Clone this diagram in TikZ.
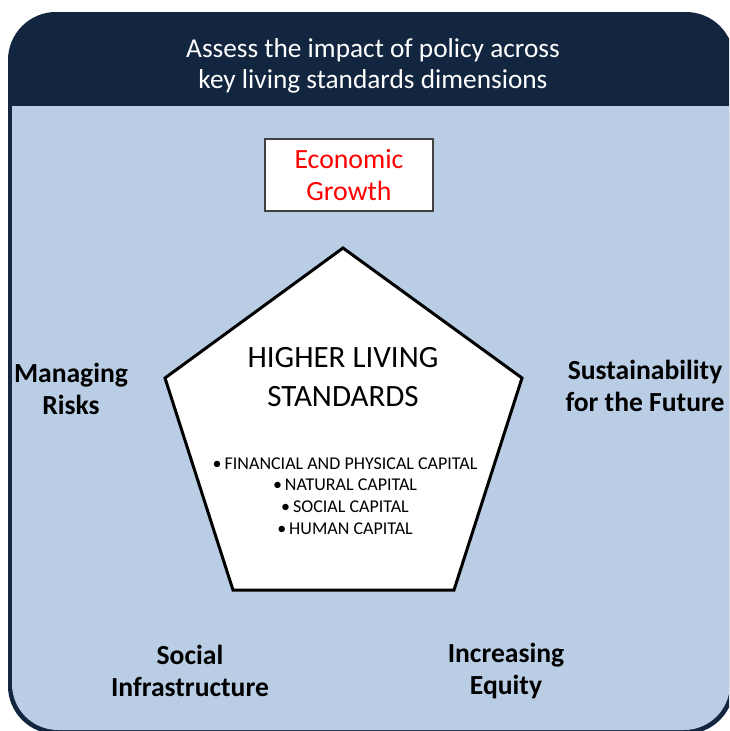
\documentclass[tikz,border=0pt]{standalone}
\usepackage{fontspec}
\setmainfont{Carlito}
\definecolor{navy}{RGB}{18,38,64}
\definecolor{paleblue}{RGB}{185,205,229}
\definecolor{boxgray}{RGB}{64,64,64}
\begin{document}
\begin{tikzpicture}[x=1pt,y=1pt,
  dim/.style={font=\fontsize{27.6}{31.5}\selectfont\bfseries, align=center, text=black, inner sep=0pt},
  title/.style={font=\fontsize{27.3}{31}\selectfont, align=center, text=white, inner sep=0pt},
  egbox/.style={draw=boxgray, fill=white, line width=1.2pt, minimum width=168pt, minimum height=72pt, text=red, align=center, font=\fontsize{27.8}{32}\selectfont, inner sep=0pt},
  core/.style={font=\fontsize{31}{39}\selectfont, align=center, inner sep=0pt},
  caplist/.style={font=\fontsize{18}{21.6}\selectfont, align=center, inner sep=0pt}]
\useasboundingbox (0,0) rectangle (729,-731);
\clip (0,0) rectangle (729,-731);
% outer frame
\fill[navy, rounded corners=48pt] (8,-12) rectangle (734,-734);
\fill[paleblue] (12,-106) -- (12,-684) arc[start angle=180,end angle=270,radius=46] -- (684,-730) arc[start angle=270,end angle=360,radius=46] -- (730,-106) -- cycle;
% header
\node[title] (head) at (373,-66) {Assess the impact of policy across\\key living standards dimensions};
% economic growth box
\node[egbox] (eg) at (349,-175) {Economic\\Growth};
% pentagon
\filldraw[fill=white, draw=black, line width=3pt, line join=miter]
  (343,-248) -- (522,-378) -- (454,-590) -- (233,-590) -- (165,-378) -- cycle;
\node[core] (hls) at (343,-377) {HIGHER LIVING\\STANDARDS};
\node[caplist] (caps) at (345,-496) {\textbullet\,FINANCIAL AND PHYSICAL CAPITAL\\\textbullet\,NATURAL CAPITAL\\\textbullet\,SOCIAL CAPITAL\\\textbullet\,HUMAN CAPITAL};
% dimensions
\node[dim] (risk) at (71,-389) {Managing\\Risks};
\node[dim] (sust) at (645,-386) {Sustainability\\for the Future};
\node[dim] (soc) at (190,-671) {Social\\Infrastructure};
\node[dim] (eq) at (506,-671) {Increasing\\Equity};
\end{tikzpicture}
\end{document}
